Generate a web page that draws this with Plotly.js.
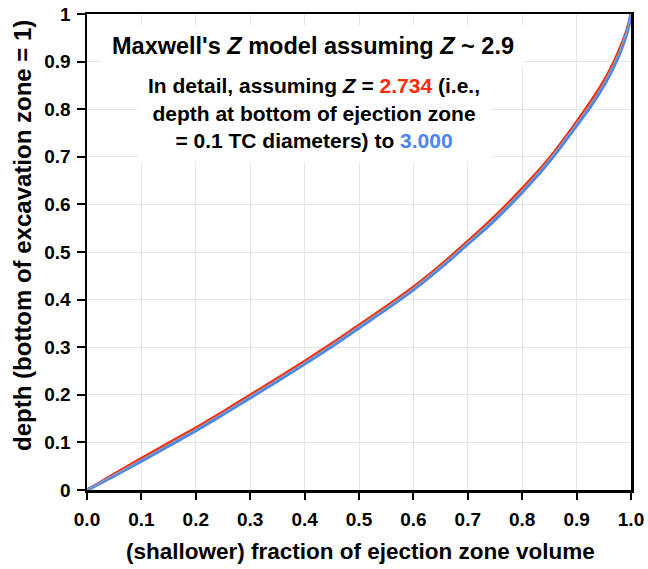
<!DOCTYPE html>
<html>
<head>
<meta charset="utf-8">
<script src="https://cdn.plot.ly/plotly-3.0.1.min.js"></script>
<style>
html,body{margin:0;padding:0;background:#fff;}
#chart{width:648px;height:569px;}
</style>
</head>
<body>
<div id="chart"></div>
<script>
// fraction of ejection zone volume (x)
const fraction = [0, 0.05, 0.1, 0.15, 0.2, 0.25, 0.3, 0.35, 0.4, 0.45, 0.5, 0.55, 0.6, 0.65, 0.7, 0.75, 0.8, 0.85, 0.9, 0.925, 0.95, 0.97, 0.98, 0.99, 0.995, 1.0];
// depth for Z = 2.734 (red)
const depthZ2734 = [0, 0.034, 0.067, 0.099, 0.131, 0.165, 0.200, 0.235, 0.271, 0.308, 0.347, 0.386, 0.427, 0.473, 0.523, 0.576, 0.634, 0.698, 0.774, 0.815, 0.860, 0.904, 0.930, 0.960, 0.978, 1.0];
// depth for Z = 2.9 (gray, middle)
const depthZ29 = [0, 0.032, 0.064, 0.096, 0.128, 0.162, 0.197, 0.232, 0.268, 0.305, 0.344, 0.383, 0.424, 0.470, 0.520, 0.572, 0.630, 0.695, 0.770, 0.810, 0.855, 0.899, 0.925, 0.956, 0.975, 1.0];
// depth for Z = 3.000 (blue)
const depthZ3000 = [0, 0.030, 0.061, 0.093, 0.125, 0.159, 0.194, 0.229, 0.265, 0.302, 0.341, 0.380, 0.421, 0.467, 0.517, 0.568, 0.626, 0.691, 0.766, 0.805, 0.850, 0.894, 0.920, 0.952, 0.972, 1.0];

const xTickVals = [0, 0.1, 0.2, 0.3, 0.4, 0.5, 0.6, 0.7, 0.8, 0.9, 1.0];
const xTickText = ["0.0", "0.1", "0.2", "0.3", "0.4", "0.5", "0.6", "0.7", "0.8", "0.9", "1.0"];
const yTickVals = [0, 0.1, 0.2, 0.3, 0.4, 0.5, 0.6, 0.7, 0.8, 0.9, 1];
const yTickText = ["0", "0.1", "0.2", "0.3", "0.4", "0.5", "0.6", "0.7", "0.8", "0.9", "1"];

const FONT = "Liberation Sans, Arial, Helvetica, sans-serif";
const RED = "#ff2a0a";
const BLUE = "#4a86f0";
const GRAY = "#9a9a9a";

const traces = [
  {x: fraction, y: depthZ2734, mode: "lines", line: {color: RED, width: 2.5, shape: "spline"}, hoverinfo: "skip"},
  {x: fraction, y: depthZ3000, mode: "lines", line: {color: BLUE, width: 3.5, shape: "spline"}, hoverinfo: "skip"},
  {x: fraction, y: depthZ29, mode: "lines", line: {color: GRAY, width: 1.2, shape: "spline"}, hoverinfo: "skip"}
];

// plot area in pixels: x 87..631, y 14..490
const PX = v => (v - 87) / 544;
const PY = v => (490 - v) / 476;

const layout = {
  width: 648, height: 569,
  margin: {l: 87, r: 17, t: 14, b: 79},
  paper_bgcolor: "#fff", plot_bgcolor: "#fff",
  showlegend: false,
  font: {family: FONT, color: "#000"},
  xaxis: {
    range: [0, 1], tickvals: xTickVals, ticktext: xTickText,
    showgrid: true, gridcolor: "#e6e6e6", gridwidth: 1,
    zeroline: false, showline: true, linecolor: "#000", linewidth: 2.5, mirror: true,
    ticks: "outside", ticklen: 7, tickwidth: 2, tickcolor: "#000",
    ticklabelstandoff: 4,
    tickfont: {family: FONT, size: 19, color: "#000", weight: "bold"},
    automargin: false
  },
  yaxis: {
    range: [0, 1], tickvals: yTickVals, ticktext: yTickText,
    showgrid: true, gridcolor: "#e6e6e6", gridwidth: 1,
    zeroline: false, showline: true, linecolor: "#000", linewidth: 2.5, mirror: true,
    ticks: "outside", ticklen: 8, tickwidth: 2, tickcolor: "#000",
    ticklabelstandoff: 2,
    tickfont: {family: FONT, size: 19, color: "#000", weight: "bold"},
    automargin: false
  },
  annotations: [
    {
      xref: "paper", yref: "paper", x: PX(313), y: PY(46),
      xanchor: "center", yanchor: "middle",
      text: "<b>Maxwell's <i>Z</i> model assuming <i>Z</i> ~ 2.9</b>",
      showarrow: false, bgcolor: "#fff", width: 420, height: 38,
      font: {family: FONT, size: 23.5, color: "#000"}
    },
    {
      xref: "paper", yref: "paper", x: PX(314), y: PY(113),
      xanchor: "center", yanchor: "middle",
      text: "<b>In detail, assuming <i>Z</i> = <span style='color:" + RED + "'>2.734</span> (i.e.,<br>depth at bottom of ejection zone<br>= 0.1 TC diameters) to <span style='color:" + BLUE + "'>3.000</span></b>",
      showarrow: false, bgcolor: "#fff", width: 350, height: 96,
      font: {family: FONT, size: 21, color: "#000"}
    },
    {
      xref: "paper", yref: "paper", x: PX(360), y: PY(551),
      xanchor: "center", yanchor: "middle",
      text: "<b>(shallower) fraction of ejection zone volume</b>",
      showarrow: false, font: {family: FONT, size: 22.5, color: "#000"}
    },
    {
      xref: "paper", yref: "paper", x: PX(22), y: PY(236),
      xanchor: "center", yanchor: "middle", textangle: -90,
      text: "<b>depth (bottom of excavation zone = 1)</b>",
      showarrow: false, font: {family: FONT, size: 24, color: "#000"}
    }
  ]
};

Plotly.newPlot("chart", traces, layout, {staticPlot: true, displayModeBar: false});
</script>
</body>
</html>
